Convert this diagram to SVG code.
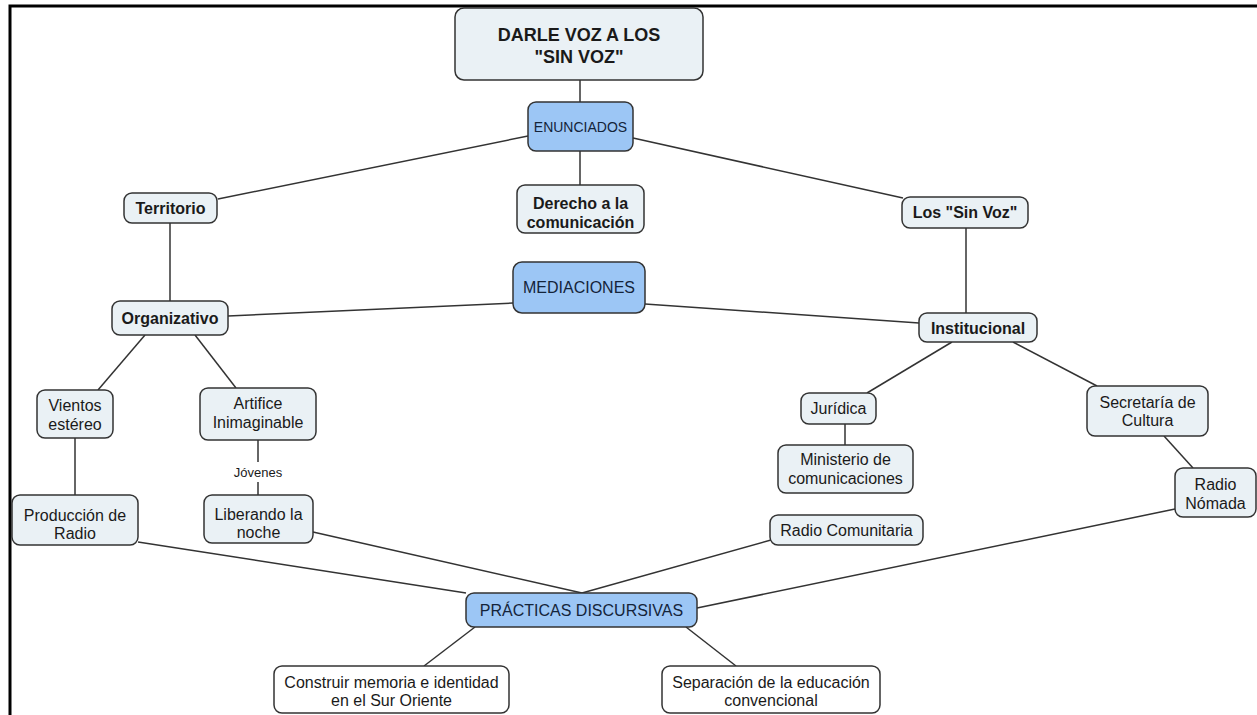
<svg xmlns="http://www.w3.org/2000/svg" width="1257" height="715" viewBox="0 0 1257 715">
<style>
  .n rect { fill: #eaf1f5; stroke: #333; stroke-width: 1.5; }
  .b rect { fill: #9cc6f5; stroke: #333; stroke-width: 1.5; }
  .w rect { fill: #ffffff; stroke: #333; stroke-width: 1.5; }
  text { font-family: "Liberation Sans", Arial, sans-serif; font-size: 16px; fill: #1a1a1a; text-anchor: middle; }
  .bold text { font-weight: bold; }
  .b text { fill: #14243a; }
  #connectors path { stroke: #333; stroke-width: 1.5; fill: none; }
</style>
<rect x="0" y="0" width="1257" height="715" fill="#ffffff"/>
<path d="M10,715 V6 H1257" stroke="#000" stroke-width="3" fill="none"/>
<g id="connectors">
  <path d="M580,80 V102"/>
  <path d="M580,151 V185"/>
  <path d="M528,136 L218,199"/>
  <path d="M633,138 L903,198"/>
  <path d="M170,223 V301"/>
  <path d="M966,228 V313"/>
  <path d="M228,316 L513,303"/>
  <path d="M645,304 L919,323"/>
  <path d="M145,335 L98,390"/>
  <path d="M195,335 L236,388"/>
  <path d="M75,438 V495"/>
  <path d="M258,440 V462"/>
  <path d="M258,482 V495"/>
  <path d="M952,342 L867,393"/>
  <path d="M845,424 V445"/>
  <path d="M1013,342 L1097,386"/>
  <path d="M1164,436 L1193,468"/>
  <path d="M138,542 L466,593"/>
  <path d="M313,532 L582,593"/>
  <path d="M771,540 L582,593"/>
  <path d="M1175,509 L697,608"/>
  <path d="M475,627 L424,666"/>
  <path d="M686,627 L736,666"/>
  <text x="258" y="477" style="font-size:13px">Jóvenes</text>
</g>
<g id="root" class="n bold">
  <rect x="455" y="8" width="248" height="72" rx="9"/>
  <text x="579" y="41" style="font-size:18px">DARLE VOZ A LOS</text>
  <text x="579" y="63" style="font-size:18px">"SIN VOZ"</text>
</g>
<g id="enunciados" class="b">
  <rect x="528" y="102" width="105" height="49" rx="8"/>
  <text x="580.5" y="132" style="font-size:14px">ENUNCIADOS</text>
</g>
<g id="derecho" class="n bold">
  <rect x="517" y="185" width="127" height="48" rx="8"/>
  <text x="580.5" y="209">Derecho a la</text>
  <text x="580.5" y="228">comunicación</text>
</g>
<g id="territorio" class="n bold">
  <rect x="124" y="193" width="93" height="30" rx="8"/>
  <text x="170.5" y="214">Territorio</text>
</g>
<g id="sinvoz" class="n bold">
  <rect x="902" y="197" width="126" height="31" rx="8"/>
  <text x="965" y="218">Los "Sin Voz"</text>
</g>
<g id="mediaciones" class="b">
  <rect x="513" y="262" width="132" height="51" rx="9"/>
  <text x="579" y="293">MEDIACIONES</text>
</g>
<g id="organizativo" class="n bold">
  <rect x="112" y="301" width="116" height="34" rx="8"/>
  <text x="170" y="324">Organizativo</text>
</g>
<g id="institucional" class="n bold">
  <rect x="919" y="313" width="118" height="29" rx="8"/>
  <text x="978" y="333.5">Institucional</text>
</g>
<g id="vientos" class="n">
  <rect x="37" y="390" width="76" height="48" rx="8"/>
  <text x="75" y="410.5">Vientos</text>
  <text x="75" y="429.5">estéreo</text>
</g>
<g id="artifice" class="n">
  <rect x="200" y="388" width="116" height="52" rx="8"/>
  <text x="258" y="409">Artifice</text>
  <text x="258" y="428">Inimaginable</text>
</g>
<g id="juridica" class="n">
  <rect x="801" y="393" width="75" height="31" rx="8"/>
  <text x="838.5" y="414">Jurídica</text>
</g>
<g id="ministerio" class="n">
  <rect x="778" y="445" width="135" height="48" rx="8"/>
  <text x="845.5" y="465">Ministerio de</text>
  <text x="845.5" y="484">comunicaciones</text>
</g>
<g id="secretaria" class="n">
  <rect x="1087" y="386" width="121" height="50" rx="8"/>
  <text x="1147.5" y="407.5">Secretaría de</text>
  <text x="1147.5" y="425.5">Cultura</text>
</g>
<g id="nomada" class="n">
  <rect x="1175" y="468" width="81" height="49" rx="8"/>
  <text x="1215.5" y="489.5">Radio</text>
  <text x="1215.5" y="508.5">Nómada</text>
</g>
<g id="produccion" class="n">
  <rect x="12" y="495" width="126" height="50" rx="8"/>
  <text x="75" y="520.5">Producción de</text>
  <text x="75" y="538.5">Radio</text>
</g>
<g id="liberando" class="n">
  <rect x="204" y="495" width="109" height="48" rx="8"/>
  <text x="258.5" y="520">Liberando la</text>
  <text x="258.5" y="538">noche</text>
</g>
<g id="comunitaria" class="n">
  <rect x="770" y="515" width="153" height="30" rx="8"/>
  <text x="846.5" y="535.5">Radio Comunitaria</text>
</g>
<g id="practicas" class="b">
  <rect x="466" y="593" width="231" height="34" rx="8"/>
  <text x="581.5" y="615.5">PRÁCTICAS DISCURSIVAS</text>
</g>
<g id="construir" class="w">
  <rect x="274" y="666" width="235" height="47" rx="8"/>
  <text x="391.5" y="687.5">Construir memoria e identidad</text>
  <text x="391.5" y="705.5">en el Sur Oriente</text>
</g>
<g id="separacion" class="w">
  <rect x="662" y="666" width="218" height="47" rx="8"/>
  <text x="771" y="687.5">Separación de la educación</text>
  <text x="771" y="705.5">convencional</text>
</g>
</svg>
